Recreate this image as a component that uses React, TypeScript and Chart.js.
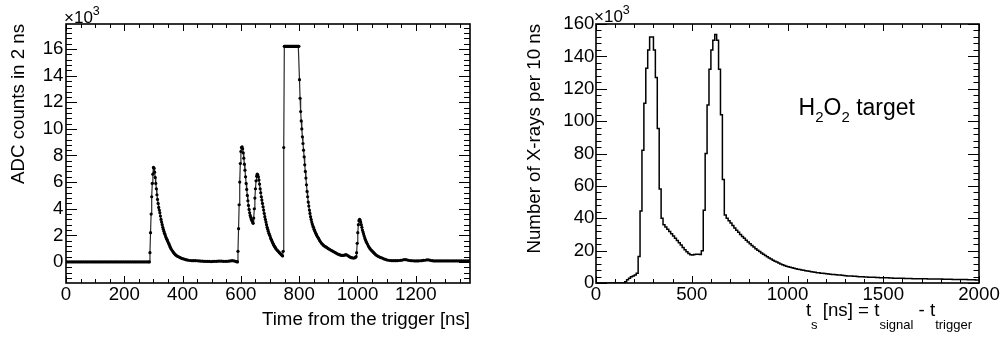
import React, { useEffect, useRef } from "react";
import { Chart, registerables } from "chart.js";

Chart.register(...registerables);

const FONT_FAMILY = "'Liberation Sans', Arial, Helvetica, sans-serif";
const LABEL_SIZE = 18.7;

// ---------------- Left panel: ADC waveform (values in 10^3 counts) ----------------
const leftXTitle = "Time from the trigger [ns]";
const leftYTitle = "ADC counts in 2 ns";
const leftXTicks = [0, 200, 400, 600, 800, 1000, 1200];
const leftYTicks = [0, 2, 4, 6, 8, 10, 12, 14, 16];
const leftXRange = [0, 1386];
const leftYRange = [-1.58, 17.88];

const adcBaseline = [
  [0, 0], [6, 0], [12, 0], [18, 0], [24, 0], [30, 0], [36, 0], [42, 0], [48, 0], [54, 0],
  [60, 0], [66, 0], [72, 0], [78, 0], [84, 0], [90, 0], [96, 0], [102, 0], [108, 0], [114, 0],
  [120, 0], [126, 0], [132, 0], [138, 0], [144, 0], [150, 0], [156, 0], [162, 0], [168, 0], [174, 0],
  [180, 0], [186, 0], [192, 0], [198, 0], [204, 0], [210, 0], [216, 0], [222, 0], [228, 0], [234, 0],
  [240, 0], [246, 0], [252, 0], [258, 0], [264, 0], [270, 0], [276, 0], [282, 0], [286, 0],
];
const adcPulse1 = [
  [288, 0.7], [290, 2.2], [292, 3.6], [294, 4.9], [296, 5.9], [298, 6.6], [300, 7.1], [302, 7.05],
  [304, 6.75], [306, 6.35], [308, 5.9], [310, 5.5], [312, 5.05], [314, 4.7], [316, 4.4], [318, 4.1],
  [320, 3.9], [322, 3.7], [324, 3.45], [326, 3.2], [328, 3.0], [330, 2.8], [332, 2.6], [334, 2.45],
  [336, 2.3], [338, 2.15], [340, 2.05], [342, 1.9], [344, 1.8], [346, 1.7], [348, 1.6], [350, 1.5],
  [352, 1.4], [354, 1.3], [356, 1.2], [358, 1.1], [360, 1.0], [363, 0.9], [366, 0.8], [369, 0.7],
  [372, 0.62], [375, 0.55], [378, 0.5], [381, 0.45], [384, 0.41], [388, 0.37], [392, 0.32], [396, 0.28],
  [400, 0.25], [405, 0.22], [410, 0.18], [415, 0.15], [420, 0.13], [426, 0.11], [432, 0.1], [438, 0.1],
  [444, 0.1], [450, 0.09], [456, 0.08], [462, 0.07], [468, 0.06], [474, 0.05], [480, 0.05], [486, 0.04],
  [492, 0.04], [498, 0.03], [504, 0.04], [510, 0.05], [516, 0.05], [522, 0.06], [528, 0.07], [534, 0.06],
  [540, 0.05], [546, 0.05], [552, 0.05], [558, 0.06], [564, 0.08], [570, 0.1], [576, 0.08], [582, 0.04],
  [586, 0.02], [588, 0.0],
];
const adcPulse2 = [
  [590, 0.8], [592, 2.5], [594, 4.3], [596, 6.0], [598, 7.4], [600, 8.3], [602, 8.6], [604, 8.65],
  [606, 8.5], [608, 8.2], [610, 7.8], [612, 7.35], [614, 6.9], [616, 6.4], [618, 5.9], [620, 5.45],
  [622, 5.0], [624, 4.6], [626, 4.25], [628, 3.95], [630, 3.7], [632, 3.5], [634, 3.35], [636, 3.2],
  [638, 3.1], [640, 3.0], [642, 2.9], [644, 3.3], [646, 4.0], [648, 4.8], [650, 5.5], [652, 6.1],
  [654, 6.45], [656, 6.6], [658, 6.55], [660, 6.4], [662, 6.15], [664, 5.85], [666, 5.5], [668, 5.2],
  [670, 4.9], [672, 4.65], [674, 4.4], [676, 4.15], [678, 3.9], [680, 3.65], [682, 3.4], [684, 3.2],
  [686, 3.0], [688, 2.8], [690, 2.6], [692, 2.45], [694, 2.3], [696, 2.15], [698, 2.05], [700, 1.95],
  [702, 1.8], [704, 1.7], [706, 1.6], [708, 1.5], [710, 1.4], [712, 1.3], [714, 1.22], [716, 1.15],
  [718, 1.08], [720, 1.0], [723, 0.92], [726, 0.85], [729, 0.78], [732, 0.7], [735, 0.64], [738, 0.57],
  [741, 0.5], [743, 0.45], [745, 0.8], [747, 8.6],
];
const adcSaturated = [
  [749, 16.2], [751, 16.2], [753, 16.2], [755, 16.2], [757, 16.2], [759, 16.2], [761, 16.2], [763, 16.2],
  [765, 16.2], [767, 16.2], [769, 16.2], [771, 16.2], [773, 16.2], [775, 16.2], [777, 16.2], [779, 16.2],
  [781, 16.2], [783, 16.2], [785, 16.2], [787, 16.2], [789, 16.2], [791, 16.2], [793, 16.2], [795, 16.2],
  [797, 16.2], [799, 16.2],
];
const adcPulse3 = [
  [801, 13.7], [803, 12.3], [805, 11.3], [807, 10.6], [809, 10.0], [811, 9.4], [813, 8.9], [815, 8.4],
  [817, 7.9], [819, 7.3], [821, 6.8], [823, 6.3], [825, 5.8], [827, 5.3], [829, 4.9], [831, 4.5],
  [833, 4.2], [835, 3.9], [837, 3.65], [839, 3.4], [841, 3.2], [843, 3.0], [845, 2.85], [847, 2.7],
  [849, 2.6], [851, 2.45], [853, 2.35], [855, 2.25], [857, 2.15], [859, 2.05], [861, 1.97], [864, 1.85],
  [867, 1.75], [870, 1.62], [873, 1.52], [876, 1.42], [879, 1.35], [882, 1.28], [885, 1.22], [888, 1.18],
  [891, 1.13], [894, 1.1], [897, 1.05], [900, 1.0], [904, 0.95], [908, 0.9], [912, 0.85], [916, 0.8],
  [920, 0.75], [924, 0.7], [928, 0.65], [932, 0.6], [936, 0.57], [940, 0.53], [944, 0.5], [948, 0.5],
  [952, 0.5], [956, 0.52], [960, 0.55], [964, 0.52], [968, 0.46], [972, 0.4], [976, 0.35], [980, 0.32],
  [984, 0.3], [988, 0.3], [992, 0.32], [995, 0.4], [997, 0.7], [999, 1.4], [1001, 2.2], [1003, 2.8],
  [1005, 3.1], [1007, 3.2], [1009, 3.15], [1011, 3.0], [1013, 2.8], [1015, 2.6], [1017, 2.4], [1019, 2.25],
  [1021, 2.1], [1023, 1.95], [1025, 1.8], [1027, 1.68], [1029, 1.57], [1031, 1.47], [1034, 1.35], [1037, 1.22],
  [1040, 1.1], [1043, 1.0], [1046, 0.92], [1049, 0.85], [1052, 0.78], [1055, 0.72], [1058, 0.65], [1061, 0.58],
  [1064, 0.52], [1068, 0.46], [1072, 0.41], [1076, 0.37], [1080, 0.33], [1085, 0.29], [1090, 0.24], [1095, 0.2],
  [1100, 0.16], [1106, 0.13], [1112, 0.11],
];
const adcTail = [
  [1118, 0.1], [1124, 0.1], [1130, 0.1], [1136, 0.1], [1142, 0.11], [1148, 0.12], [1154, 0.14], [1160, 0.18],
  [1166, 0.17], [1172, 0.14], [1178, 0.11], [1184, 0.1], [1190, 0.09], [1196, 0.08], [1202, 0.08], [1208, 0.08],
  [1214, 0.09], [1220, 0.1], [1226, 0.12], [1232, 0.13], [1238, 0.16], [1244, 0.15], [1250, 0.12], [1256, 0.1],
  [1262, 0.08], [1268, 0.08], [1274, 0.08], [1280, 0.08], [1286, 0.08], [1292, 0.08], [1298, 0.08], [1304, 0.08],
  [1310, 0.08], [1316, 0.08], [1322, 0.08], [1328, 0.08], [1334, 0.08], [1340, 0.08], [1346, 0.08], [1352, 0.08],
  [1358, 0.08], [1364, 0.08], [1370, 0.08], [1376, 0.08], [1382, 0.08], [1386, 0.08],
];

// ---------------- Right panel: X-ray timing histogram (10 ns bins, values in 10^3) ----------------
const rightYTitle = "Number of X-rays per 10 ns";
const rightXTicks = [0, 500, 1000, 1500, 2000];
const rightYTicks = [0, 20, 40, 60, 80, 100, 120, 140, 160];
const rightXRange = [0, 2000];
const rightYRange = [0, 160];
const xrayBinWidthNs = 10;
const xrayCounts = [
  0, 0, 0, 0, 0, 0, 0, 0, 0, 0,
  0, 0, 0, 0, 0, 0.8, 2.0, 3.0, 3.8, 4.3,
  5.0, 6.0, 16.3, 44.5, 82, 111, 132.6, 144, 152, 152,
  144, 127, 95.5, 58, 40, 36, 34.6, 33.2, 31.8, 30.4,
  29, 27.6, 26.2, 24.8, 23.4, 22, 20.6, 19.3, 18.2, 17.5,
  17.3, 17.6, 17.8, 17.8, 17.6, 20, 45, 80, 110, 132,
  144, 150, 153.5, 150, 132, 104, 64, 42, 40, 38.5,
  37, 35.5, 34, 32.6, 31.3, 30, 28.8, 27.6, 26.4, 25.3,
  24.3, 23.2, 22.2, 21.2, 20.3, 19.4, 18.6, 17.8, 17.0, 16.2,
  15.5, 14.8, 14.1, 13.5, 12.9, 12.3, 11.8, 11.3, 10.8, 10.4,
  10.0, 9.7, 9.4, 9.1, 8.8, 8.5, 8.3, 8.0, 7.8, 7.6,
  7.4, 7.2, 7.0, 6.8, 6.6, 6.4, 6.3, 6.1, 6.0, 5.8,
  5.7, 5.6, 5.4, 5.3, 5.2, 5.1, 5.0, 4.9, 4.8, 4.6,
  4.5, 4.4, 4.3, 4.3, 4.2, 4.1, 4.0, 3.9, 3.9, 3.8,
  3.7, 3.7, 3.6, 3.6, 3.5, 3.5, 3.4, 3.4, 3.3, 3.3,
  3.3, 3.2, 3.2, 3.1, 3.1, 3.0, 3.0, 3.0, 2.9, 2.9,
  2.9, 2.8, 2.8, 2.8, 2.8, 2.7, 2.7, 2.7, 2.7, 2.6,
  2.6, 2.6, 2.6, 2.5, 2.5, 2.5, 2.5, 2.4, 2.4, 2.4,
  2.4, 2.3, 2.3, 2.3, 2.3, 2.3, 2.2, 2.2, 2.2, 2.2,
  2.1, 2.1, 2.1, 2.1, 2.0, 2.0, 2.0, 2.0, 1.9, 1.9,
];

// ---------------- helpers ----------------
type Part = { text: string; size: number; dy?: number };
type RichText = { parts: Part[]; x: number; y: number; align: "left" | "right" };

function drawRich(ctx: CanvasRenderingContext2D, t: RichText) {
  let total = 0;
  for (const p of t.parts) {
    ctx.font = `${p.size}px ${FONT_FAMILY}`;
    total += ctx.measureText(p.text).width;
  }
  let cx = t.align === "right" ? t.x - total : t.x;
  ctx.fillStyle = "#000";
  ctx.textAlign = "left";
  ctx.textBaseline = "alphabetic";
  for (const p of t.parts) {
    ctx.font = `${p.size}px ${FONT_FAMILY}`;
    ctx.fillText(p.text, cx, t.y + (p.dy || 0));
    cx += ctx.measureText(p.text).width;
  }
}

type AxesCfg = {
  xMajor: number[]; xMinorStep: number; xMajLen: number; xMinLen: number;
  yMajor: number[]; yMinorStep: number; yMajLen: number; yMinLen: number;
  texts: RichText[];
};

function makeRootAxes(cfg: AxesCfg) {
  return {
    id: "rootAxes",
    afterDraw(chart: any) {
      const { ctx, chartArea: a } = chart;
      const xs = chart.scales.x;
      const ys = chart.scales.y;
      ctx.save();
      ctx.strokeStyle = "#000";
      ctx.lineWidth = 1;
      const seg = (x1: number, y1: number, x2: number, y2: number) => {
        ctx.beginPath();
        ctx.moveTo(x1, y1);
        ctx.lineTo(x2, y2);
        ctx.stroke();
      };
      const steps = (min: number, max: number, step: number) => {
        const out: number[] = [];
        for (let k = Math.ceil(min / step - 1e-9); k * step <= max + 1e-9; k++) out.push(k * step);
        return out;
      };
      const xTick = (v: number, len: number) => {
        const p = Math.round(xs.getPixelForValue(v)) + 0.5;
        seg(p, a.bottom, p, a.bottom - len);
        seg(p, a.top, p, a.top + len);
      };
      const yTick = (v: number, len: number) => {
        const p = Math.round(ys.getPixelForValue(v)) + 0.5;
        seg(a.left, p, a.left + len, p);
        seg(a.right, p, a.right - len, p);
      };
      for (const v of steps(xs.min, xs.max, cfg.xMinorStep)) xTick(v, cfg.xMinLen);
      for (const v of cfg.xMajor) xTick(v, cfg.xMajLen);
      for (const v of steps(ys.min, ys.max, cfg.yMinorStep)) yTick(v, cfg.yMinLen);
      for (const v of cfg.yMajor) yTick(v, cfg.yMajLen);
      ctx.lineWidth = 1.6;
      ctx.strokeRect(a.left, a.top, a.right - a.left, a.bottom - a.top);
      for (const t of cfg.texts) drawRich(ctx, t);
      ctx.restore();
    },
  };
}

const labelFont = { family: FONT_FAMILY, size: LABEL_SIZE };

function axis(range: number[], ticks: number[], fitSize: number, horizontal: boolean, pad: number, title?: any) {
  return {
    type: "linear",
    min: range[0],
    max: range[1],
    afterFit: (s: any) => {
      if (horizontal) s.height = fitSize;
      else s.width = fitSize;
    },
    afterBuildTicks: (s: any) => {
      s.ticks = ticks.map((v) => ({ value: v }));
    },
    ticks: {
      font: labelFont,
      color: "#000",
      padding: pad,
      maxRotation: 0,
      autoSkip: false,
      callback: (v: any) => String(v),
    },
    grid: { display: false, drawTicks: false },
    border: { display: false },
    title: title || { display: false },
  };
}

const toXY = (arr: number[][]) => arr.map(([x, y]) => ({ x, y }));

function LeftPanel() {
  const ref = useRef<HTMLCanvasElement>(null);
  useEffect(() => {
    const data = toXY([...adcBaseline, ...adcPulse1, ...adcPulse2, ...adcSaturated, ...adcPulse3, ...adcTail]);
    const chart = new Chart(ref.current as HTMLCanvasElement, {
      type: "scatter",
      data: {
        datasets: [
          {
            data,
            showLine: true,
            borderColor: "#2a2a2a",
            borderWidth: 1.2,
            pointRadius: 1.6,
            pointBorderWidth: 0,
            pointBackgroundColor: "#000",
          },
        ],
      },
      options: {
        animation: false,
        responsive: false,
        devicePixelRatio: 1,
        events: [],
        layout: { padding: { top: 24, right: 30, left: 0, bottom: 0 } },
        plugins: { legend: { display: false }, tooltip: { enabled: false } },
        scales: {
          x: axis(leftXRange, leftXTicks, 55, true, 1, {
            display: true, text: leftXTitle, align: "end", color: "#000",
            font: labelFont, padding: { top: 0, bottom: 7 },
          }),
          y: axis(leftYRange, leftYTicks, 66, false, 2.5, {
            display: true, text: leftYTitle, align: "end", color: "#000",
            font: labelFont, padding: { top: 8, bottom: 0 },
          }),
        } as any,
      },
      plugins: [
        makeRootAxes({
          xMajor: leftXTicks, xMinorStep: 50, xMajLen: 7, xMinLen: 4,
          yMajor: leftYTicks, yMinorStep: 0.4, yMajLen: 11, yMinLen: 6,
          texts: [
            { parts: [{ text: "×10", size: 17 }, { text: "3", size: 12.5, dy: -8 }], x: 64, y: 23, align: "left" },
          ],
        }),
      ],
    } as any);
    return () => chart.destroy();
  }, []);
  return <canvas ref={ref} width={500} height={338} style={{ position: "absolute", left: 0, top: 0 }} />;
}

function RightPanel() {
  const ref = useRef<HTMLCanvasElement>(null);
  useEffect(() => {
    const data = xrayCounts.map((c, i) => ({ x: i * xrayBinWidthNs, y: c }));
    data.push({ x: xrayCounts.length * xrayBinWidthNs, y: xrayCounts[xrayCounts.length - 1] });
    const chart = new Chart(ref.current as HTMLCanvasElement, {
      type: "line",
      data: {
        datasets: [
          {
            data,
            stepped: true,
            borderColor: "#000",
            borderWidth: 1.5,
            pointRadius: 0,
            fill: false,
          },
        ],
      },
      options: {
        animation: false,
        responsive: false,
        devicePixelRatio: 1,
        events: [],
        layout: { padding: { top: 24, right: 22, left: 0, bottom: 0 } },
        plugins: { legend: { display: false }, tooltip: { enabled: false } },
        scales: {
          x: axis(rightXRange, rightXTicks, 55, true, 1),
          y: axis(rightYRange, rightYTicks, 96, false, 1.5, {
            display: true, text: rightYTitle, align: "end", color: "#000",
            font: labelFont, padding: { top: 24, bottom: 0 },
          }),
        } as any,
      },
      plugins: [
        makeRootAxes({
          xMajor: rightXTicks, xMinorStep: 100, xMajLen: 7, xMinLen: 4,
          yMajor: rightYTicks, yMinorStep: 4, yMajLen: 11, yMinLen: 5.5,
          texts: [
            { parts: [{ text: "×10", size: 17 }, { text: "3", size: 12.5, dy: -8 }], x: 94, y: 22, align: "left" },
            {
              parts: [
                { text: "H", size: 23 }, { text: "2", size: 15, dy: 7 },
                { text: "O", size: 23 }, { text: "2", size: 15, dy: 7 },
                { text: " target", size: 23 },
              ],
              x: 415, y: 115, align: "right",
            },
            {
              parts: [
                { text: "t", size: LABEL_SIZE }, { text: "s", size: 13, dy: 12.5 },
                { text: " [ns] = t", size: LABEL_SIZE }, { text: "signal", size: 13, dy: 12.5 },
                { text: " - t", size: LABEL_SIZE }, { text: "trigger", size: 13, dy: 12.5 },
              ],
              x: 472, y: 316, align: "right",
            },
          ],
        }),
      ],
    } as any);
    return () => chart.destroy();
  }, []);
  return <canvas ref={ref} width={501} height={338} style={{ position: "absolute", left: 500, top: 0 }} />;
}

export default function App() {
  return (
    <div style={{ position: "absolute", left: 0, top: 0, width: 1001, height: 338, background: "#fff", overflow: "hidden" }}>
      <LeftPanel />
      <RightPanel />
    </div>
  );
}
